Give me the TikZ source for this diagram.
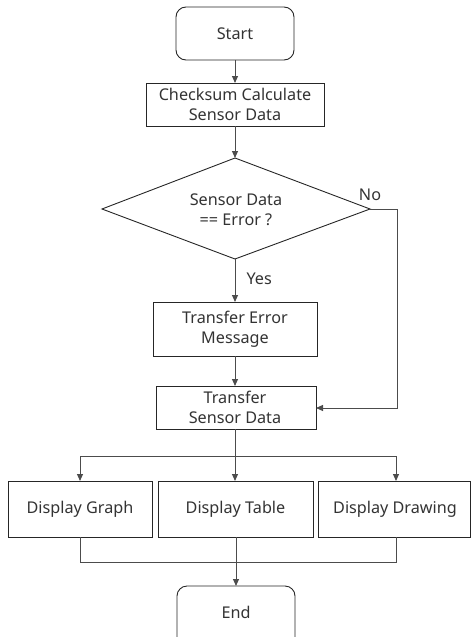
\documentclass[tikz,border=0pt]{standalone}
\usepackage{fontspec}
\setmainfont{Noto Sans}
\usetikzlibrary{shapes.geometric,arrows.meta}
\begin{document}
\begin{tikzpicture}[x=1pt,y=-1pt,
  font=\fontsize{16.2}{20}\selectfont,
  txt/.style={text=black!80},
  boxx/.style={draw=black!85, line width=0.9pt, txt},
  rnd/.style={boxx, rounded corners=10pt},
  conn/.style={draw=black!70, line width=1pt},
  arr/.style={conn, -{Triangle[length=7pt,width=6pt]}}]
\useasboundingbox (0,0) rectangle (471,637);
\clip (0,0) rectangle (471,637);
\draw[rnd] (176,7) rectangle (294,60);
\node[txt] (start) at (235,33.5) {Start};
\coordinate (startb) at (235,60);
\draw[boxx] (146,83) rectangle (324,126);
\node[txt, align=center] (chk) at (235,104.5) {Checksum Calculate\\Sensor Data};
\coordinate (chkt) at (235,83);
\coordinate (chkb) at (235,126);
\draw[boxx] (235,158) -- (370,209) -- (235,259) -- (102,209) -- cycle;
\node[txt, align=center] (dia) at (236,210) {Sensor Data\\== Error ?};
\coordinate (diat) at (235,158);
\coordinate (diab) at (235,259);
\coordinate (diar) at (370,209);
\draw[boxx] (153,302) rectangle (317,356);
\node[txt, align=center] (tem) at (235,329) {Transfer Error\\Message};
\coordinate (temt) at (235,302);
\coordinate (temb) at (235,356);
\draw[boxx] (156,386) rectangle (316,429);
\node[txt, align=center] (tsd) at (235,407.5) {Transfer\\Sensor Data};
\coordinate (tsdt) at (235,386);
\coordinate (tsdb) at (235,429);
\coordinate (tsdr) at (316,408);
\draw[boxx] (8,481) rectangle (152,537);
\node[txt] (dg) at (80,509) {Display Graph};
\draw[boxx] (158,481) rectangle (313,537);
\node[txt] (dt) at (235.5,509) {Display Table};
\draw[boxx] (318,481) rectangle (470,537);
\node[txt] (dd) at (395,509) {Display Drawing};
\draw[rnd] (177,586) rectangle (295,650);
\node[txt] (endn) at (236,612) {End};
\coordinate (endt) at (236,586);
% connectors
\draw[arr] (startb) -- (chkt);
\draw[arr] (chkb) -- (diat);
\draw[arr] (diab) -- (temt);
\node[txt, anchor=west] (yes) at (243,279) {Yes};
\draw[arr] (diar) -- (397,209) -- (397,408) -- (tsdr);
\node[txt] (no) at (370,195) {No};
\draw[arr] (temb) -- (tsdt);
\coordinate (split) at (235,456);
\draw[conn] (tsdb) -- (split);
\draw[conn] (80,456) -- (396,456);
\draw[arr] (80,456) -- (80,481);
\draw[arr] (split) -- (235,481);
\draw[arr] (396,456) -- (396,481);
\draw[conn] (80,537) -- (80,562) -- (396,562) -- (396,537);
\draw[arr] (236,537) -- (endt);
\end{tikzpicture}
\end{document}
